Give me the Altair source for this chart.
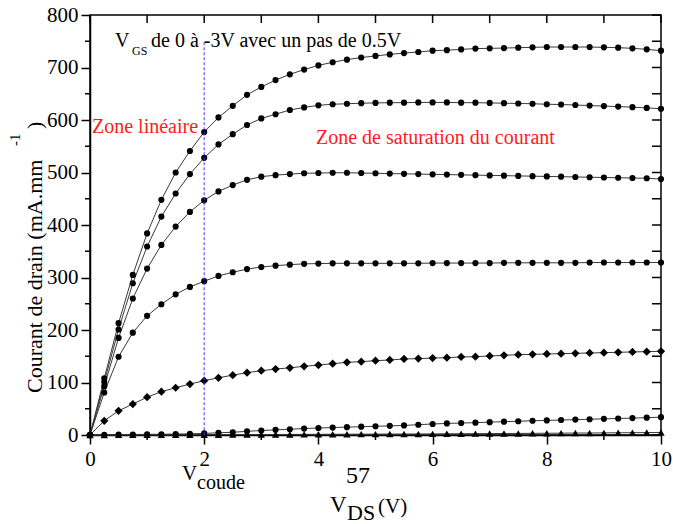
import altair as alt
import pandas as pd

# ---------------- data ----------------
vds = [0, 0.25, 0.5, 0.75, 1, 1.25, 1.5, 1.75, 2, 2.25, 2.5, 2.75, 3, 3.25, 3.5, 3.75,
       4, 4.25, 4.5, 4.75, 5, 5.25, 5.5, 5.75, 6, 6.25, 6.5, 6.75, 7, 7.25, 7.5, 7.75,
       8, 8.25, 8.5, 8.75, 9, 9.25, 9.5, 9.75, 10]

vgs_names = ["0 V", "-0.5 V", "-1 V", "-1.5 V", "-2 V", "-2.5 V", "-3 V"]

id_0 = [0, 108, 213, 305, 384, 448, 500, 541, 577, 605, 627, 648, 663, 676, 687, 696,
        704, 710, 715, 719, 722, 725, 727.5, 729.5, 732, 733, 734.5, 736, 736.5, 737, 737.8, 738.4,
        739, 739, 739, 739, 738.4, 737.8, 736.5, 734.6, 732]
id_05 = [0, 101, 201, 289, 359, 416, 460, 497, 528, 553.5, 573, 590.5, 603, 611, 619, 624,
         628, 630, 631, 632, 632.5, 633, 633, 633.5, 633.5, 633.5, 633, 633, 632.5, 632, 631.5, 631,
         630, 629.5, 628.5, 627.5, 626.5, 625.5, 624.5, 623, 621.5]
id_1 = [0, 93, 185, 260, 317, 362, 397, 425, 447, 464, 476, 486, 492, 495, 497, 498.5,
        499, 499.5, 499.5, 499, 498.5, 498, 497.5, 497, 496.5, 496, 495.5, 495, 494.5, 494, 493.5, 493,
        492.5, 492, 491.5, 491, 490.5, 490, 489.5, 489, 487.5]
id_15 = [0, 81, 149, 195, 227, 249, 268, 282, 293, 303, 310, 316, 320, 322.5, 324.5, 326,
         326.5, 327, 327, 327, 327, 327, 327, 327, 327.5, 327.5, 327.5, 327.5, 327.5, 328, 328, 328,
         328, 328, 328, 328.5, 328.5, 328.5, 328.5, 328.5, 328.5]
id_2 = [0, 27, 46, 59, 72, 82.5, 90, 97, 103.5, 109, 114, 118.7, 122.5, 125.6, 128, 130.8,
        133.3, 135.8, 138.4, 139.7, 141.6, 142.9, 144.8, 145.5, 146.5, 147.3, 148.6, 149.2, 150.5, 151.7, 153, 153.6,
        154.3, 155, 155.6, 156.2, 156.9, 157.5, 158.2, 158.8, 159.4]
id_25 = [0, 0.5, 0.8, 1, 1.2, 1.5, 1.8, 2.3, 3, 4.2, 5.2, 7, 8.5, 9.8, 11, 12.3,
         13.3, 14.2, 15, 15.8, 16.6, 17.4, 18.2, 19.6, 21, 22, 22.8, 23.5, 24.5, 25.4, 26.2, 27.1,
         27.8, 28.5, 29.3, 30, 30.8, 31.5, 32.2, 33, 34]
id_3 = [0, 0.1, 0.2, 0.2, 0.3, 0.3, 0.4, 0.4, 0.5, 0.6, 0.7, 0.8, 0.9, 1.0, 1.1, 1.2,
        1.3, 1.4, 1.5, 1.6, 1.7, 1.8, 1.9, 2.0, 2.1, 2.3, 2.4, 2.6, 2.7, 2.9, 3.0, 3.2,
        3.3, 3.5, 3.7, 3.8, 4.0, 4.2, 4.4, 4.6, 4.8]

series = [id_0, id_05, id_1, id_15, id_2, id_25, id_3]

x_major = [0, 2, 4, 6, 8, 10]
x_minor = [1, 3, 5, 7, 9]
x_top = [0, 1, 2, 3, 4, 5, 6, 7, 8, 9, 10]
y_major = [0, 100, 200, 300, 400, 500, 600, 700, 800]
y_minor = [50, 150, 250, 350, 450, 550, 650, 750]
y_right = [0, 50, 100, 150, 200, 250, 300, 350, 400, 450, 500, 550, 600, 650, 700, 750, 800]

v_coude = [2]
v_coude_top = [748]

rows = []
for name, vals in zip(vgs_names, series):
    for xv, yv in zip(vds, vals):
        rows.append({"vds": xv, "id": yv, "vgs": name})
df = pd.DataFrame(rows)

# ---------------- layout ----------------
W, H = 571, 420
FONT = "'Liberation Serif', 'Times New Roman', 'DejaVu Serif', serif"

xs = alt.Scale(domain=[0, 10], nice=False, zero=False)
ys = alt.Scale(domain=[0, 800], nice=False, zero=False)

xaxis = alt.Axis(values=x_major, title=None, grid=False, tickSize=9, labelPadding=4,
                 labelFont=FONT, labelFontSize=21, labelColor="black",
                 domainColor="black", tickColor="black", domainWidth=1.5, tickWidth=1.5,
                 labelFlush=False, labelOverlap=False)
yaxis = alt.Axis(values=y_major, title=None, grid=False, tickSize=9, labelPadding=3,
                 labelFont=FONT, labelFontSize=21, labelColor="black",
                 domainColor="black", tickColor="black", domainWidth=1.5, tickWidth=1.5,
                 labelFlush=False, labelOverlap=False)

X = lambda f: alt.X(f, type="quantitative", scale=xs, axis=xaxis)
Y = lambda f: alt.Y(f, type="quantitative", scale=ys, axis=yaxis)

lines = alt.Chart(df).mark_line(color="#3a3a3a", strokeWidth=1).encode(
    x=X("vds"), y=Y("id"), detail="vgs:N")

circle_series = ["0 V", "-0.5 V", "-1 V", "-1.5 V", "-2.5 V"]
pts_circle = alt.Chart(df).transform_filter(
    alt.FieldOneOfPredicate(field="vgs", oneOf=circle_series)
).mark_point(filled=True, color="black", opacity=1, shape="circle", size=38).encode(
    x=X("vds"), y=Y("id"))
pts_diamond = alt.Chart(df).transform_filter(
    alt.FieldEqualPredicate(field="vgs", equal="-2 V")
).mark_point(filled=True, color="black", opacity=1, shape="diamond", size=68).encode(
    x=X("vds"), y=Y("id"))
pts_tri = alt.Chart(df).transform_filter(
    alt.FieldEqualPredicate(field="vgs", equal="-3 V")
).mark_point(filled=True, color="black", opacity=1, shape="triangle-up", size=55).encode(
    x=X("vds"), y=Y("id"))

coude = alt.Chart(pd.DataFrame({"x": v_coude, "y": v_coude_top})).mark_rule(
    color="#3b3bff", strokeWidth=1.2, strokeDash=[3, 2], opacity=0.85).encode(
    x=X("x"), y=Y("y"), y2=alt.datum(0))

top_ticks = alt.Chart(pd.DataFrame({"t": x_top})).mark_rule(color="black", strokeWidth=1.5).encode(
    x=X("t"), y=alt.value(0), y2=alt.value(8))
bot_minor = alt.Chart(pd.DataFrame({"t": x_minor})).mark_rule(color="black", strokeWidth=1.5).encode(
    x=X("t"), y=alt.value(H), y2=alt.value(H + 5))
right_ticks = alt.Chart(pd.DataFrame({"t": y_right})).mark_rule(color="black", strokeWidth=1.5).encode(
    y=Y("t"), x=alt.value(W - 9), x2=alt.value(W))
left_minor = alt.Chart(pd.DataFrame({"t": y_minor})).mark_rule(color="black", strokeWidth=1.5).encode(
    y=Y("t"), x=alt.value(-5), x2=alt.value(0))


def txt(s, px, py, size, color="black", angle=None, align="left"):
    kw = dict(align=align, baseline="alphabetic", font=FONT, fontSize=size, color=color)
    if angle is not None:
        kw["angle"] = angle
    return alt.Chart(pd.DataFrame({"s": [s]})).mark_text(**kw).encode(
        text="s:N", x=alt.value(px), y=alt.value(py))


texts = [
    txt("V", 25, 32, 20),
    txt("GS", 42, 40, 12),
    txt("de 0 à -3V avec un pas de 0.5V", 61, 32, 20),
    txt("Zone linéaire", 2, 118, 20, color="#ff1a1a"),
    txt("Zone de saturation du courant", 226, 129, 20, color="#ff1a1a"),
    txt("V", 92, 465, 21),
    txt("coude", 107, 474, 20),
    txt("57", 256, 468, 24),
    txt("V", 240, 497, 23),
    txt("DS", 257, 505, 22),
    txt("(V)", 288, 498, 21),
    txt("Courant de drain (mA.mm", -48, 378, 22, angle=270),
    txt("-1", -70, 131, 15, angle=270),
    txt(")", -48, 114, 22, angle=270),
]

chart = alt.layer(lines, pts_circle, pts_diamond, pts_tri, coude, top_ticks, bot_minor,
                  right_ticks, left_minor, *texts).properties(
    width=W, height=H,
    padding={"left": 90, "top": 15, "right": 12, "bottom": 89},
    autosize=alt.AutoSizeParams(type="none"),
    background="white",
).configure_view(stroke="black", strokeWidth=1.5)

chart.save("out.html", embed_options={"renderer": "svg", "actions": False})
